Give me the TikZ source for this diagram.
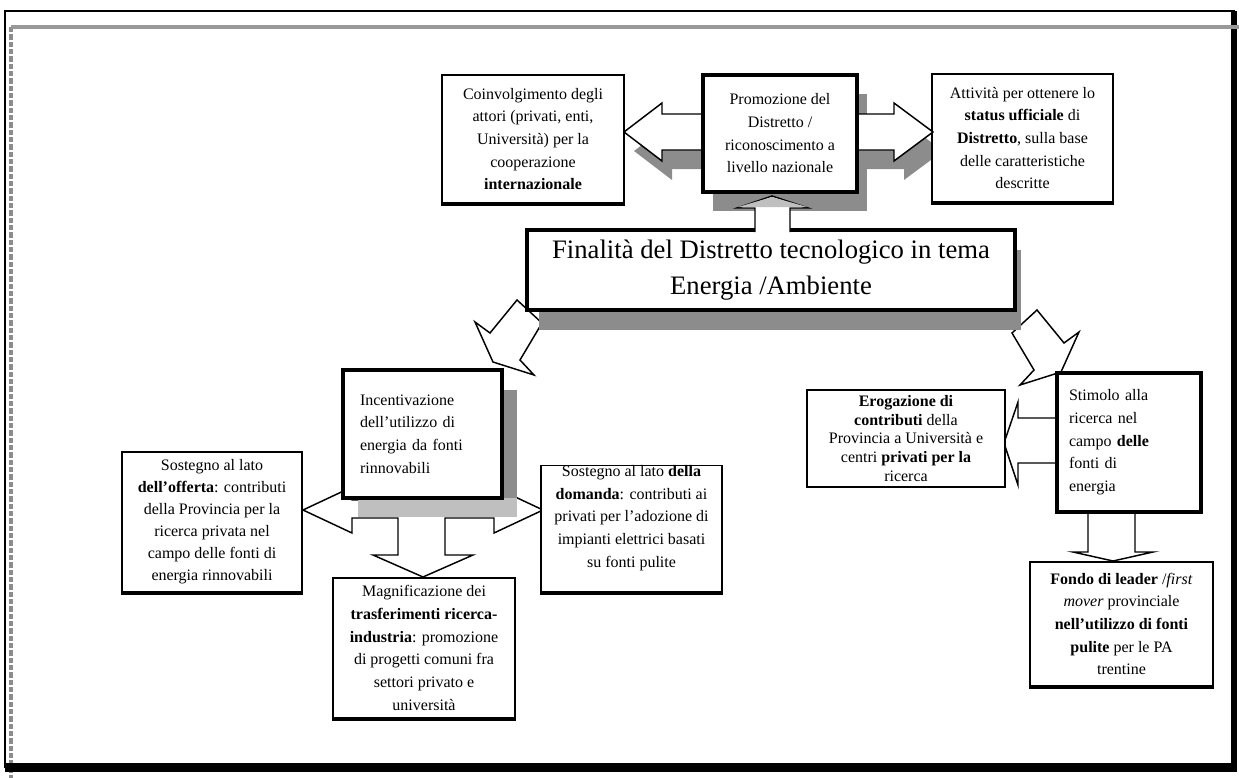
\documentclass[tikz,border=0pt]{standalone}
\usepackage{fontspec}
\setmainfont{Liberation Serif}

\begin{document}
\begin{tikzpicture}[x=0.75pt, y=-0.75pt,
  font=\fontsize{12}{17}\selectfont,
  bx/.style   ={draw, line width=1.1pt, fill=white, inner sep=0pt, align=center},
  bxb/.style  ={bx, append after command={(\tikzlastnode.south west) edge[line width=3pt] (\tikzlastnode.south east)}},
  bxk/.style  ={bx, line width=2.6pt},
  sz/.style n args={2}{minimum width=#1*0.75pt, minimum height=#2*0.75pt},
  shad/.style ={fill=black!45},
  lite/.style ={fill=black!25},
  blk/.style  ={draw, line width=1.1pt, fill=white, line join=miter},
  frame/.style={draw=black!45, line width=3.5pt}
]
\useasboundingbox (0,0) rectangle (1239,778);

% page frame
\draw[frame, dash pattern=on 4pt off 1.5pt] (11,27) -- (11,778);
\draw[line width=2.2pt] (5,11) rectangle (1234,767);
\fill (1231,11) rectangle (1237,772);
\fill (5,763) rectangle (1237,772);
\draw[frame, draw=black!40] (11,27) -- (1239,27);

% the two tilted arrows under the title
\draw[blk] (517,300) -- (542,323) -- (520,360) -- (534,375) -- (493,362) -- (475,322) -- (490,333) -- cycle;
\draw[blk] (1037,310) -- (1012,333) -- (1034,370) -- (1020,385) -- (1061,372) -- (1079,332) -- (1064,343) -- cycle;

% title
\fill[shad] (539,250) rectangle (1021,330);
\node[bxk, sz={488}{80}, font=\fontsize{20}{27}\selectfont] (title) at (771,270)
  {Finalità del Distretto tecnologico in tema\\Energia /Ambiente};

% top row
\begin{scope}[shift={(10,19)}]
  \fill[shad] (624,132) -- (662,103) -- (662,114) -- (894,114) -- (894,103) -- (933,132)
    -- (894,161) -- (894,150) -- (662,150) -- (662,161) -- cycle;
  \fill[shad] (703,75) rectangle (857,192);
\end{scope}
\node[bxb, sz={182}{128}] (coinv) at (533,139)
  {Coinvolgimento degli\\attori (privati, enti,\\Università) per la\\cooperazione\\\textbf{internazionale}};
\node[bxb, sz={181}{128}] (stato) at (1022.5,138)
  {Attività per ottenere lo\\\textbf{status ufficiale} di\\\textbf{Distretto}, sulla base\\delle caratteristiche\\descritte};
\draw[blk] (755,232) -- (755,208) -- (737,208) -- (772,196) -- (808,208) -- (790,208) -- (790,232);
\fill[lite] (738,207) -- (772,197) -- (807,207) -- cycle;
\draw[blk] (624,132) -- (662,103) -- (662,114) -- (894,114) -- (894,103) -- (933,132)
  -- (894,161) -- (894,150) -- (662,150) -- (662,161) -- cycle;
\node[bxk, sz={154}{117}] (promo) at (780,133.5)
  {Promozione del\\Distretto /\\riconoscimento a\\livello nazionale};

% left branch
\draw[blk] (303,510) -- (352,487) -- (352,500) -- (494,500) -- (494,487) -- (543,510)
  -- (494,533) -- (494,518) -- (445,518) -- (445,555) -- (473,555) -- (423,577)
  -- (373,555) -- (398,555) -- (398,518) -- (352,518) -- (352,533) -- cycle;
\fill[lite] (358,497) rectangle (517,517);
\fill[shad] (502,390) rectangle (517,498);
\node[bxk, sz={159}{128}, align=left, text width=125*0.75pt] (incent) at (422.5,434)
  {Incentivazione\\dell'utilizzo di\\energia da fonti\\rinnovabili\\[10pt]};
\node[bxb, sz={180}{140}, font=\fontsize{12}{16.5}\selectfont] (offerta) at (212,522)
  {Sostegno al lato\\\textbf{dell'offerta}: contributi\\della Provincia per la\\ricerca privata nel\\campo delle fonti di\\energia rinnovabili};
\node[bxb, sz={181}{126}] (domanda) at (631.5,529)
  {Sostegno al lato \textbf{della}\\\textbf{domanda}: contributi ai\\privati per l'adozione di\\impianti elettrici basati\\su fonti pulite\\[2pt]};
\node[bxb, sz={182}{140}] (magn) at (424,648)
  {Magnificazione dei\\\textbf{trasferimenti ricerca-}\\\textbf{industria}: promozione\\di progetti comuni fra\\settori privato e\\università};

% right branch
\draw[blk] (1004,443) -- (1018,402) -- (1018,418) -- (1060,418) -- (1060,463) -- (1018,463) -- (1018,485) -- cycle;
\draw[blk] (1088,505) -- (1088,552) -- (1073,552) -- (1113,561) -- (1153,552) -- (1135,552) -- (1135,505);
\node[bxk, sz={144}{139}, align=left, text width=120*0.75pt] (stimolo) at (1129,442.5)
  {Stimolo alla\\ricerca nel\\campo \textbf{delle}\\fonti di\\energia\\[4pt]};
\node[bx, sz={198}{97}, font=\fontsize{12}{14}\selectfont] (eroga) at (906,438.5)
  {\textbf{Erogazione di}\\\textbf{contributi} della\\Provincia a Università e\\centri \textbf{privati per la}\\ricerca};
\node[bxb, sz={183}{124}] (fondo) at (1121.5,624)
  {\textbf{Fondo di leader} /\textit{first}\\\textit{mover} provinciale\\\textbf{nell'utilizzo di fonti}\\\textbf{pulite} per le PA\\trentine};
\end{tikzpicture}
\end{document}
